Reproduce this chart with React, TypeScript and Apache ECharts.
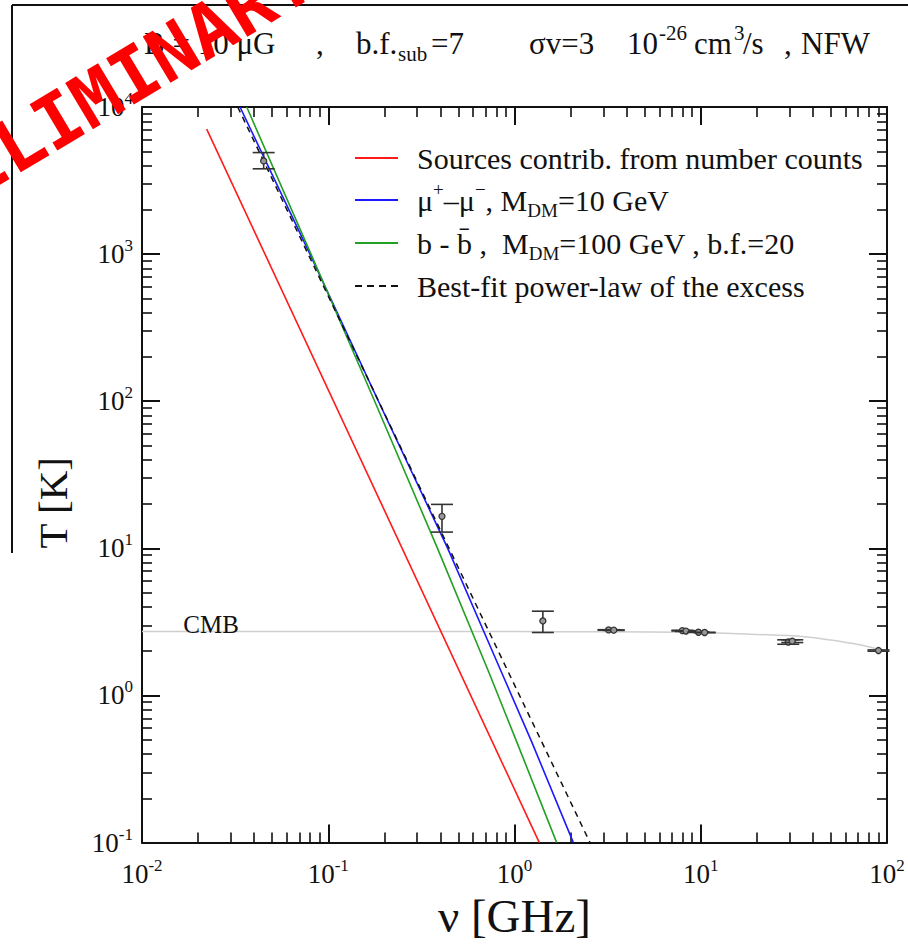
import React, { useEffect, useRef } from 'react';
import * as echarts from 'echarts';

const FONT = "'Liberation Serif', 'Times New Roman', serif";

// ---- data ----
const sourcesNu = [0.02225, 1.359];
const sourcesT = [7080, 0.1];
const muNu = [0.0336, 0.0798, 0.186, 0.438, 0.854, 1.237, 2.07];
const muT = [10000, 1000, 100, 10, 1.426, 0.484, 0.1];
const bbNu = [0.0365, 0.0808, 0.1775, 0.386, 0.73, 1.028, 1.685];
const bbT = [10000, 1000, 100, 10, 1.426, 0.484, 0.1];
const fitNu = [0.03265, 2.543];
const fitT = [10000, 0.1];
const cmbNu = [0.01, 0.3, 1, 3, 10, 20, 35, 50, 70, 100];
const cmbT = [2.725, 2.725, 2.72, 2.71, 2.68, 2.6, 2.52, 2.38, 2.22, 2.0];
const obsNu = [0.045, 0.408, 1.42, 3.2, 3.41, 7.97, 8.33, 9.72, 10.49, 29.5, 31, 90];
const obsT = [4300, 16.5, 3.21, 2.79, 2.78, 2.76, 2.74, 2.69, 2.68, 2.31, 2.34, 2.02];
const obsLo = [3800, 12.9, 2.68, 2.78, 2.77, 2.745, 2.725, 2.684, 2.674, 2.23, 2.29, 2.0];
const obsHi = [4900, 19.9, 3.74, 2.8, 2.79, 2.775, 2.755, 2.696, 2.686, 2.39, 2.39, 2.04];

const X_MIN = 0.01;
const X_MAX = 100;
const Y_MIN = 0.1;
const Y_MAX = 10000;
const xExponents = ['-2', '-1', '0', '1', '2'];
const yExponents = ['-1', '0', '1', '2', '3', '4'];

const seriesNames = [
  'Sources contrib. from number counts',
  'mu+ mu-, MDM=10 GeV',
  'b bbar, MDM=100 GeV, b.f.=20',
  'Best-fit power-law of the excess',
];
const legendLabels: Record<string, string> = {
  [seriesNames[0]]: '{g| }{n|Sources contrib. from number counts}',
  [seriesNames[1]]: '{g| }{n|μ}{sup|+}{n|–μ}{sup|−}{n|, M}{sub|DM}{n|=10 GeV}',
  [seriesNames[2]]: '{g| }{n|b - b\u0304 ,  M}{sub|DM}{n|=100 GeV , b.f.=20}',
  [seriesNames[3]]: '{g| }{n|Best-fit power-law of the excess}',
};
const legendTops = [143, 180, 228, 271];
const DASH_ICON = 'path://M0,0h7v2h-7z M12,0h7v2h-7z M24,0h7v2h-7z M36,0h7v2h-7z';

function pairs(a: number[], b: number[]) {
  return a.map((v, i) => [v, b[i]]);
}

const tickRich = {
  b: { fontFamily: FONT, fontSize: 27, lineHeight: 34, color: '#111' },
  s: { fontFamily: FONT, fontSize: 17, lineHeight: 18, verticalAlign: 'top', color: '#111' },
};

function expOf(v: number, list: string[]) {
  const e = String(Math.round(Math.log10(v)));
  return list.includes(e) ? e : '';
}

export default function App() {
  const ref = useRef<HTMLDivElement>(null);
  useEffect(() => {
    document.body.style.margin = '0';
    const chart = echarts.init(ref.current!, undefined, { renderer: 'svg' });

    const axisCommon = {
      type: 'log',
      splitLine: { show: false },
      axisLine: { show: true, onZero: false, lineStyle: { color: '#111', width: 2 } },
      axisTick: { show: true, inside: true, length: 18, lineStyle: { color: '#111', width: 2 } },
      minorTick: { show: true, splitNumber: 9, length: 10, lineStyle: { color: '#111', width: 1.6 } },
    };

    const rich = {
      n: { fontFamily: FONT, fontSize: 30, lineHeight: 40, color: '#111' },
      sup: { fontFamily: FONT, fontSize: 19, verticalAlign: 'top', color: '#111' },
      sub: { fontFamily: FONT, fontSize: 19, verticalAlign: 'bottom', color: '#111' },
      g: { fontFamily: FONT, fontSize: 30, width: 14 },
    };

    const legends = seriesNames.map((name, i) => ({
      show: true,
      data: [name],
      orient: 'vertical',
      left: 355,
      top: legendTops[i],
      padding: 0,
      itemWidth: 43,
      itemHeight: 2,
      icon: i === 3 ? DASH_ICON : 'rect',
      selectedMode: false,
      formatter: (n: string) => legendLabels[n],
      textStyle: { fontFamily: FONT, fontSize: 30, color: '#111', rich },
    }));

    const tn = { fontFamily: FONT, fontSize: 31, fontWeight: 'normal', lineHeight: 42, color: '#111', align: 'left' };
    const ts = { fontFamily: FONT, fontSize: 21, fontWeight: 'normal', color: '#111', align: 'left' };

    const option: any = {
      animation: false,
      title: {
        text:
          '{a|B = 10 μG}{c|,}{d|b.f.}{sb|sub}{e|=7}{f|σv=3}{g|10}{sp|-26}{h|cm}{sq|3}{i|/s}{j|,}{n|NFW}',
        left: 139,
        top: 17,
        textStyle: {
          fontWeight: 'normal',
          rich: {
            n: tn,
            a: { ...tn, width: 172 },
            c: { ...tn, width: 40 },
            d: { ...tn, width: 42 },
            sb: { ...ts, width: 33, verticalAlign: 'bottom' },
            e: { ...tn, width: 98 },
            f: { ...tn, width: 98 },
            g: { ...tn, width: 32 },
            sp: { ...ts, width: 35, verticalAlign: 'top' },
            h: { ...tn, width: 40 },
            sq: { ...ts, width: 9, verticalAlign: 'top' },
            i: { ...tn, width: 41 },
            j: { ...tn, width: 17 },
          },
        },
      },
      legend: legends,
      grid: { left: 142, right: 21, top: 107, bottom: 92 },
      xAxis: [
        {
          ...axisCommon,
          position: 'bottom',
          min: X_MIN,
          max: X_MAX,
          name: 'ν [GHz]',
          nameLocation: 'middle',
          nameGap: 31,
          nameTextStyle: { fontFamily: FONT, fontSize: 47, color: '#111' },
          axisLabel: {
            margin: 14,
            formatter: (v: number) => `{b|10}{s|${expOf(v, xExponents)}}`,
            rich: tickRich,
          },
        },
        { ...axisCommon, position: 'top', min: X_MIN, max: X_MAX, axisLabel: { show: false } },
      ],
      yAxis: [
        {
          ...axisCommon,
          position: 'left',
          min: Y_MIN,
          max: Y_MAX,
          name: 'T [K]',
          nameLocation: 'middle',
          nameRotate: 90,
          nameGap: 69,
          nameTextStyle: { fontFamily: FONT, fontSize: 41, color: '#111', padding: [0, 56, 0, 0] },
          axisLabel: {
            margin: 9,
            formatter: (v: number) => `{b|10}{s|${expOf(v, yExponents)}}`,
            rich: tickRich,
          },
        },
        { ...axisCommon, position: 'right', min: Y_MIN, max: Y_MAX, axisLabel: { show: false } },
      ],
      series: [
        {
          name: 'CMB',
          type: 'line',
          data: pairs(cmbNu, cmbT),
          smooth: 0.3,
          symbol: 'none',
          lineStyle: { color: '#cfcfcf', width: 1.5 },
          z: 1,
          markPoint: {
            symbol: 'circle',
            symbolSize: 1,
            itemStyle: { color: 'rgba(0,0,0,0)' },
            label: {
              show: true,
              position: 'top',
              distance: -6,
              formatter: 'CMB',
              fontFamily: FONT,
              fontSize: 25,
              color: '#111',
            },
            data: [{ coord: [0.0235, 2.725] }],
          },
        },
        {
          name: seriesNames[0],
          type: 'line',
          data: pairs(sourcesNu, sourcesT),
          symbol: 'none',
          color: '#ff1a1a',
          lineStyle: { color: '#ff1a1a', width: 1.6 },
        },
        {
          name: seriesNames[1],
          type: 'line',
          data: pairs(muNu, muT),
          symbol: 'none',
          color: '#1a1aff',
          lineStyle: { color: '#1a1aff', width: 1.6 },
        },
        {
          name: seriesNames[2],
          type: 'line',
          data: pairs(bbNu, bbT),
          symbol: 'none',
          color: '#22a022',
          lineStyle: { color: '#22a022', width: 1.6 },
        },
        {
          name: seriesNames[3],
          type: 'line',
          data: pairs(fitNu, fitT),
          symbol: 'none',
          color: '#111',
          lineStyle: { color: '#111', width: 1.5, type: [6, 5] },
        },
        {
          name: 'Data',
          type: 'custom',
          z: 5,
          data: obsNu.map((v, i) => [v, obsT[i], obsLo[i], obsHi[i]]),
          encode: { x: 0, y: 1 },
          renderItem: (params: any, api: any) => {
            const nu = api.value(0);
            const c = api.coord([nu, api.value(1)]);
            const cl = api.coord([nu, api.value(2)]);
            const ch = api.coord([nu, api.value(3)]);
            const w = 11;
            const st = { stroke: '#333', lineWidth: 1.6 };
            return {
              type: 'group',
              children: [
                { type: 'line', shape: { x1: c[0], y1: ch[1], x2: c[0], y2: cl[1] }, style: st },
                { type: 'line', shape: { x1: c[0] - w, y1: ch[1], x2: c[0] + w, y2: ch[1] }, style: st },
                { type: 'line', shape: { x1: c[0] - w, y1: cl[1], x2: c[0] + w, y2: cl[1] }, style: st },
                {
                  type: 'circle',
                  shape: { cx: c[0], cy: c[1], r: 3 },
                  style: { fill: '#999', stroke: '#333', lineWidth: 1.3 },
                },
              ],
            };
          },
        },
      ],
      graphic: [
        { type: 'line', shape: { x1: 12, y1: 5, x2: 908, y2: 5 }, style: { stroke: '#111', lineWidth: 2 }, z: 50 },
        { type: 'line', shape: { x1: 12, y1: 5, x2: 12, y2: 553 }, style: { stroke: '#111', lineWidth: 2 }, z: 50 },
        {
          type: 'text',
          x: 96,
          y: 97,
          rotation: 0.54,
          z: 100,
          style: {
            text: 'PRELIMINARY',
            fill: '#ff0000',
            font: "bold 74px 'DejaVu Sans Mono', monospace",
            align: 'center',
            verticalAlign: 'middle',
          },
        },
      ],
    };
    chart.setOption(option);
    return () => chart.dispose();
  }, []);
  return <div ref={ref} style={{ width: 908, height: 944 }} />;
}
